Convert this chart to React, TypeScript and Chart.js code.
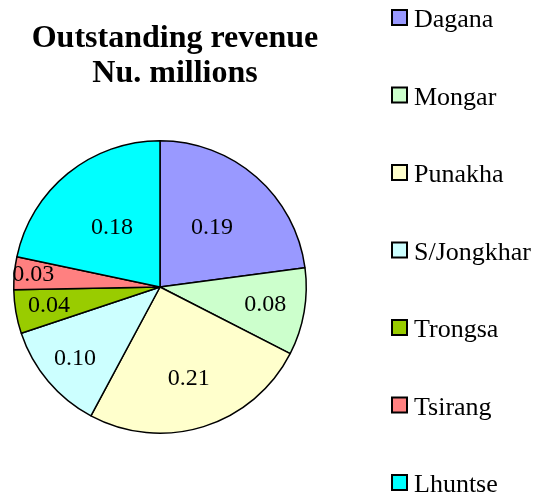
import React, { useEffect, useRef } from "react";
import { Chart, registerables } from "chart.js";

Chart.register(...registerables);

const categories = ["Dagana", "Mongar", "Punakha", "S/Jongkhar", "Trongsa", "Tsirang", "Lhuntse"];
const values = [0.19, 0.08, 0.21, 0.10, 0.04, 0.03, 0.18];
const colors = ["#9999FF", "#CCFFCC", "#FFFFCC", "#CCFFFF", "#99CC00", "#FF8080", "#00FFFF"];
const titleLines = ["Outstanding revenue", "Nu. millions"];

const FONT = '"Liberation Serif", "Times New Roman", serif';
const LABEL_R = [0.54, 0.73, 0.66, 0.76, 0.77, 0.87, 0.52];

const decorPlugin = {
  id: "decor",
  afterDatasetsDraw(chart: any) {
    const ctx = chart.ctx;
    const meta = chart.getDatasetMeta(0);
    ctx.save();
    // slice labels
    ctx.fillStyle = "#000";
    ctx.font = `24px ${FONT}`;
    ctx.textAlign = "center";
    ctx.textBaseline = "middle";
    meta.data.forEach((arc: any, i: number) => {
      const mid = (arc.startAngle + arc.endAngle) / 2;
      const r = arc.outerRadius * LABEL_R[i];
      ctx.fillText(values[i].toFixed(2), arc.x + Math.cos(mid) * r, arc.y + Math.sin(mid) * r);
    });
    // title
    ctx.font = `bold 32px ${FONT}`;
    ctx.textBaseline = "alphabetic";
    ctx.fillText(titleLines[0], 175, 47);
    ctx.fillText(titleLines[1], 175, 82);
    // legend
    ctx.textAlign = "left";
    ctx.font = `26px ${FONT}`;
    categories.forEach((c, i) => {
      const cy = 18 + i * 77.5;
      ctx.fillStyle = colors[i];
      ctx.fillRect(392, cy - 8, 15, 15);
      ctx.strokeStyle = "#000";
      ctx.lineWidth = 2;
      ctx.strokeRect(392, cy - 8, 15, 15);
      ctx.fillStyle = "#000";
      ctx.fillText(c, 414, cy + 9);
    });
    ctx.restore();
  },
};

export default function App() {
  const ref = useRef<HTMLCanvasElement>(null);
  useEffect(() => {
    if (!ref.current) return;
    const chart = new Chart(ref.current, {
      type: "pie",
      data: {
        labels: categories,
        datasets: [
          {
            data: values,
            backgroundColor: colors,
            borderColor: "#000",
            borderWidth: 1.5,
          },
        ],
      },
      options: {
        responsive: false,
        animation: false,
        layout: { padding: { left: 13, top: 140, right: 235, bottom: 61 } },
        plugins: {
          legend: { display: false },
          title: { display: false },
          tooltip: { enabled: false },
        },
      },
      plugins: [decorPlugin],
    });
    return () => chart.destroy();
  }, []);
  return (
    <div style={{ position: "fixed", left: 0, top: 0, width: 542, height: 495, background: "#fff" }}>
      <canvas ref={ref} width={542} height={495} />
    </div>
  );
}
